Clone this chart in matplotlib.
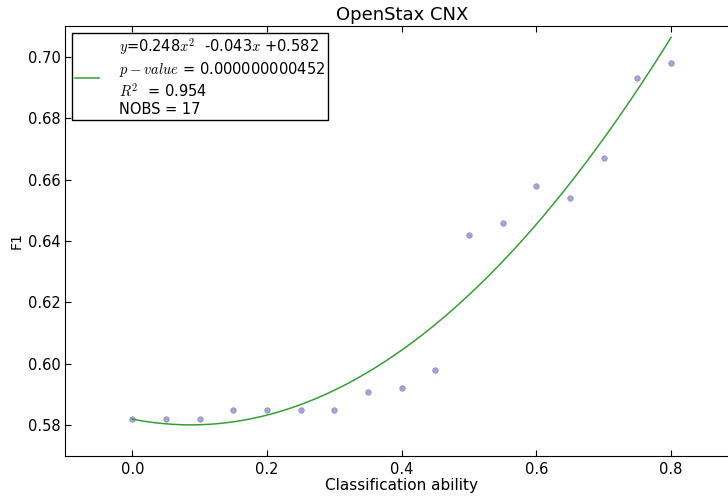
"""Quadratic fit of F1 against classification ability."""
import numpy as np
from matplotlib import pyplot as plt

ability = [0.0, 0.05, 0.10, 0.15, 0.20, 0.25, 0.30, 0.35, 0.40,
           0.45, 0.50, 0.55, 0.60, 0.65, 0.70, 0.75, 0.80]
f1 = [0.582, 0.582, 0.582, 0.585, 0.585, 0.585, 0.585, 0.591, 0.592,
      0.598, 0.642, 0.646, 0.658, 0.654, 0.667, 0.693, 0.698]

# fitted polynomial (highest power first) and its stats
coef = [0.248, -0.043, 0.582]
p_value = "0.000000000452"
r2 = 0.954
nobs = len(ability)

plt.rcParams["mathtext.fontset"] = "cm"

fig = plt.figure(figsize=(7.28, 4.98), dpi=100)
# right edge of the axes runs past the figure border
ax = fig.add_axes([65 / 728, 42 / 498, 673.5 / 728, 430 / 498])

ax.scatter(ability, f1, s=16, color="#8888cc", alpha=0.75,
           edgecolors="#7777bb", linewidths=0.5, zorder=2)

xs = np.linspace(min(ability), max(ability), 200)
label = (r"$y$=%.3f$x^2$  %.3f$x$ +%.3f" % tuple(coef) + "\n"
         + r"$p-value$ = " + p_value + "\n"
         + r"$R^2$  = %.3f" % r2 + "\n"
         + "NOBS = %d" % nobs)
ax.plot(xs, np.polyval(coef, xs), color="#33a033", lw=1.1, label=label)

ax.set_xlim(-0.1, 0.9)
ax.set_ylim(0.57, 0.71)
ax.set_xticks([0.0, 0.2, 0.4, 0.6, 0.8])
ax.set_yticks([0.58, 0.60, 0.62, 0.64, 0.66, 0.68, 0.70])
ax.tick_params(direction="in", top=True, right=True, length=4,
               labelsize=10.5)
ax.tick_params(axis="x", pad=4)
ax.tick_params(axis="y", pad=3)
for sp in ax.spines.values():
    sp.set_color("black")

ax.set_title("OpenStax CNX", fontsize=13, pad=4)
ax.set_xlabel("Classification ability", fontsize=11, labelpad=1)
ax.set_ylabel("F1", fontsize=10, labelpad=3)

leg = ax.legend(loc="upper left", fontsize=10.5, fancybox=False,
                framealpha=1, handlelength=1.6, handletextpad=1.4,
                borderpad=0.2, labelspacing=0.05, borderaxespad=0.5)
leg.get_frame().set_edgecolor("black")
leg.get_frame().set_linewidth(1.0)

fig.savefig("out.png", dpi=100)
